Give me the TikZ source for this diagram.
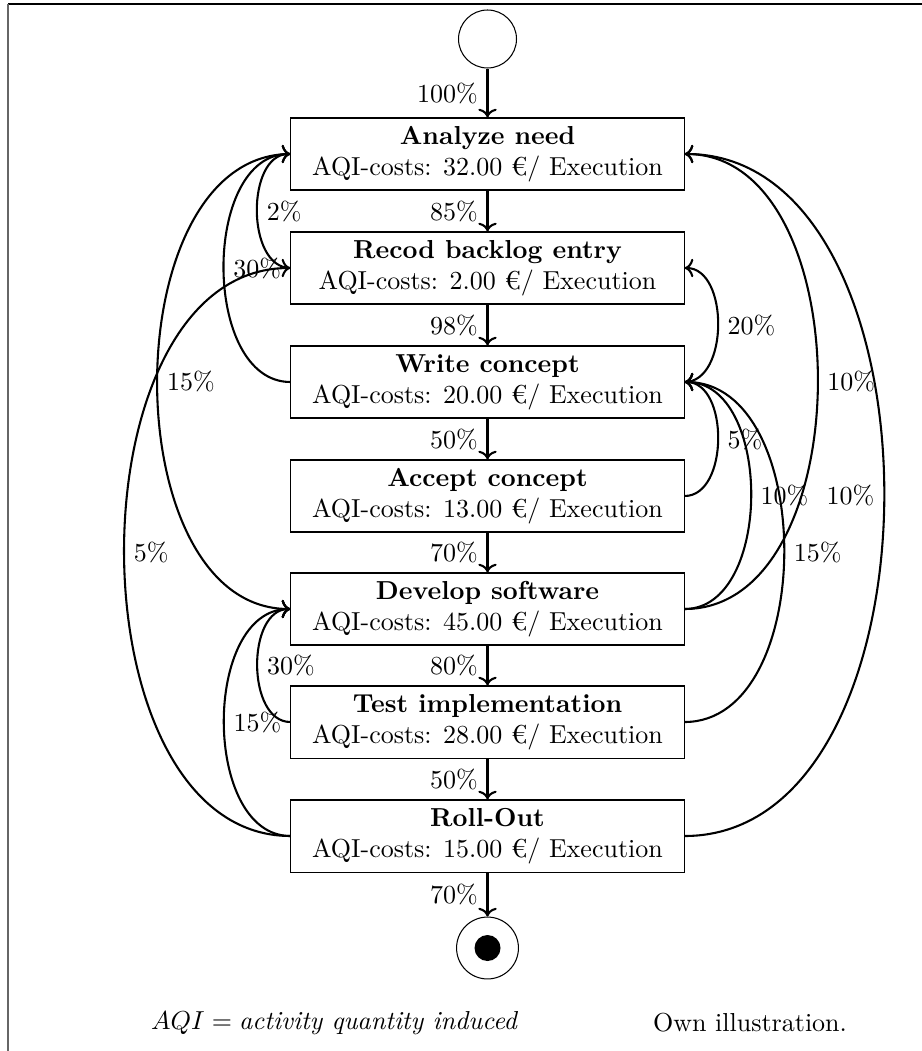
\documentclass[tikz,border=0pt]{standalone}
\usetikzlibrary{arrows.meta}
\begin{document}
\begin{tikzpicture}[x=0.3846pt,y=-0.3846pt,
  act/.style={draw, rectangle, minimum width=151.2pt, minimum height=27.7pt, align=center, inner sep=2pt},
  flow/.style={->, thick},
  state/.style={circle, draw, inner sep=0pt}]
\useasboundingbox (0,0) rectangle (922,1051);
\coordinate (fa) at (8,4);
\coordinate (fb) at (922,4);
\coordinate (fc) at (8,1051);
\draw[black, line width=0.5pt] (fa) -- (fb);
\draw[black!60, line width=0.8pt] (fa) -- (fc);

\node[state, minimum size=22.3pt] (start) at (487.5,39) {};
\node[act] (a1) at (487.5,154) {\textbf{Analyze need}\\AQI-costs: 32.00 €/ Execution};
\node[act] (a2) at (487.5,268) {\textbf{Recod backlog entry}\\AQI-costs: 2.00 €/ Execution};
\node[act] (a3) at (487.5,382) {\textbf{Write concept}\\AQI-costs: 20.00 €/ Execution};
\node[act] (a4) at (487.5,496) {\textbf{Accept concept}\\AQI-costs: 13.00 €/ Execution};
\node[act] (a5) at (487.5,609) {\textbf{Develop software}\\AQI-costs: 45.00 €/ Execution};
\node[act] (a6) at (487.5,722) {\textbf{Test implementation}\\AQI-costs: 28.00 €/ Execution};
\node[act] (a7) at (487.5,836) {\textbf{Roll-Out}\\AQI-costs: 15.00 €/ Execution};
\node[state, minimum size=23.8pt] (end) at (487.5,948) {};
\node[circle, fill, inner sep=0pt, minimum size=10pt] (endin) at (end.center) {};

\draw[flow] (start) -- node[left]{100\%} (a1);
\draw[flow] (a1) -- node[left]{85\%} (a2);
\draw[flow] (a2) -- node[left]{98\%} (a3);
\draw[flow] (a3) -- node[left]{50\%} (a4);
\draw[flow] (a4) -- node[left]{70\%} (a5);
\draw[flow] (a5) -- node[left]{80\%} (a6);
\draw[flow] (a6) -- node[left]{50\%} (a7);
\draw[flow] (a7) -- node[left]{70\%} (end);

\draw[flow] (a2.west) to[out=180,in=180] node[right]{2\%} (a1.west);
\draw[flow] (a3.west) to[out=180,in=180] node[right]{30\%} (a1.west);
\draw[flow] (a1.west) to[out=180,in=180] node[right]{15\%} (a5.west);
\draw[flow] (a7.west) to[out=180,in=180] node[right]{5\%} (a2.west);
\draw[flow] (a6.west) to[out=180,in=180] node[right]{30\%} (a5.west);
\draw[flow] (a7.west) to[out=180,in=180] node[right]{15\%} (a5.west);

\draw[flow] (a3.east) to[out=0,in=0] node[right]{20\%} (a2.east);
\draw[flow] (a4.east) to[out=0,in=0] node[right]{5\%} (a3.east);
\draw[flow] (a5.east) to[out=0,in=0] node[right]{10\%} (a3.east);
\draw[flow] (a6.east) to[out=0,in=0] node[right]{15\%} (a3.east);
\draw[flow] (a5.east) to[out=0,in=0] node[right]{10\%} (a1.east);
\draw[flow] (a7.east) to[out=0,in=0] node[left]{10\%} (a1.east);

\node (aqi) at (334,1023) {$AQI = \textit{activity quantity induced}$};
\node (own) at (750,1023) {Own illustration.};
\end{tikzpicture}
\end{document}
